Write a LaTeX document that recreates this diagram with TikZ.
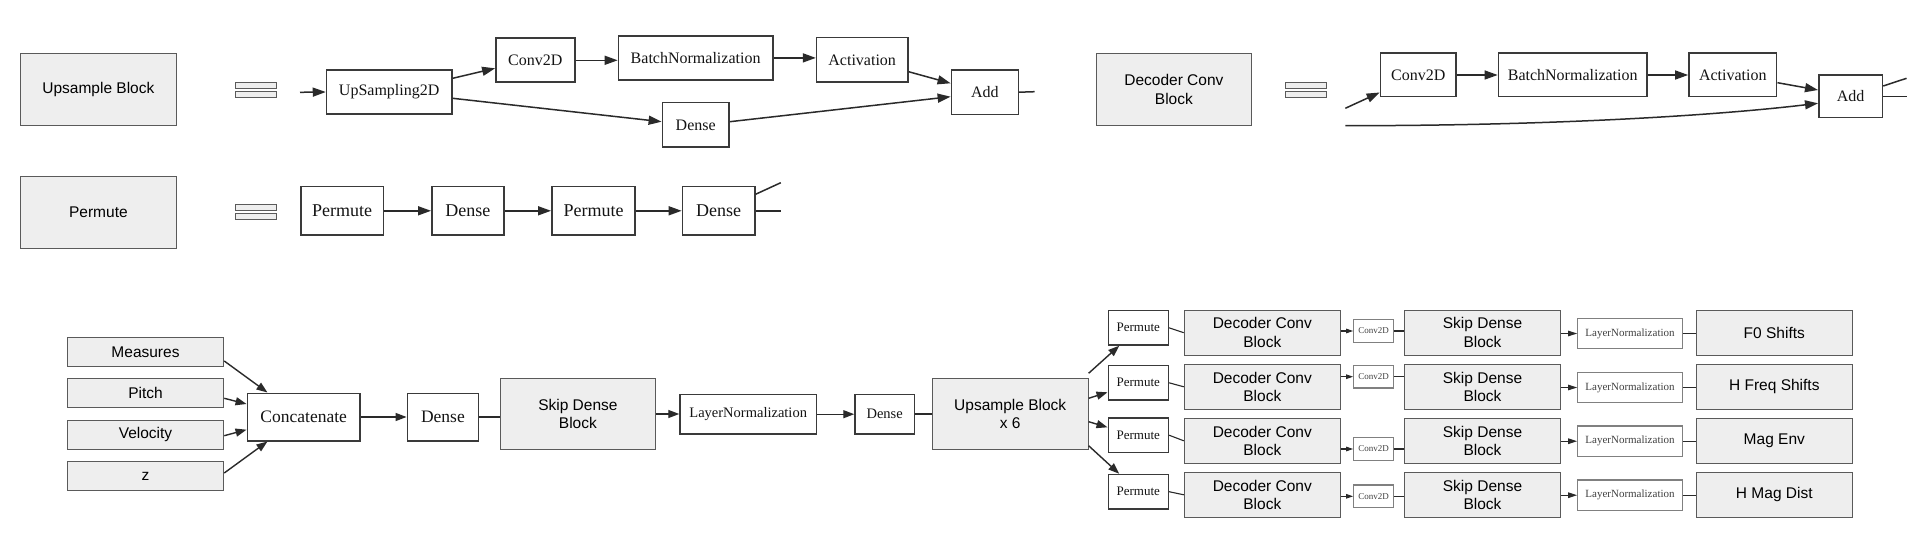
\documentclass[tikz,border=0pt]{standalone}
\usepackage{fontspec}
\setmainfont{Liberation Serif}
\setsansfont{Liberation Sans}
\usetikzlibrary{arrows.meta}
\definecolor{gfill}{HTML}{EEEEEE}
\definecolor{gline}{HTML}{5A5A5A}
\definecolor{wline}{HTML}{3A3A3A}
\definecolor{eline}{HTML}{2A2A2A}
\definecolor{sline}{HTML}{808080}
\begin{document}
\begin{tikzpicture}[x=1pt,y=-1pt,
  gbox/.style={draw=gline,fill=gfill,line width=1.1pt,inner sep=0pt,align=center,
    font=\sffamily\fontsize{15.5}{18.5}\selectfont},
  wbox/.style={draw=wline,fill=white,line width=1.6pt,inner sep=0pt,align=center,text=black!92},
  sbox/.style={draw=sline,fill=white,line width=1.1pt,inner sep=0pt,align=center,text=black!75},
  eqbar/.style={draw=gline,fill=gfill,line width=0.9pt,inner sep=0pt,
    minimum width=40.8pt,minimum height=5.6pt},
  arr/.style={draw=eline,line width=1.5pt,-{Triangle[length=13pt,width=9pt]}},
  marr/.style={draw=eline,line width=1.4pt,-{Triangle[length=11pt,width=8pt]}},
  sarr/.style={draw=eline,line width=1.1pt,-{Triangle[length=7pt,width=4.5pt]}},
  tarr/.style={draw=eline,line width=1.1pt,-{Triangle[length=9pt,width=5.5pt]}},
  conn/.style={draw=eline,line width=1.5pt},
  sconn/.style={draw=eline,line width=1.1pt},
  fa/.style={font=\rmfamily\fontsize{16}{18}\selectfont},
  fb/.style={font=\rmfamily\fontsize{18}{20}\selectfont},
  fc/.style={font=\rmfamily\fontsize{17.5}{20}\selectfont},
  fd/.style={font=\rmfamily\fontsize{14.5}{16}\selectfont},
  fe/.style={font=\rmfamily\fontsize{13}{15}\selectfont},
  ff/.style={font=\rmfamily\fontsize{9}{11}\selectfont},
  fg/.style={font=\rmfamily\fontsize{11}{13}\selectfont}
]
\useasboundingbox (0,0) rectangle (1920,540);
\fill[white] (0,0) rectangle (1920,540);

% ---------- Upsample block definition ----------
\node[gbox,minimum width=156pt,minimum height=72pt] (ub) at (98.4,89.3) {Upsample Block};
\node[eqbar] (eqa1) at (255.9,85.5) {};
\node[eqbar] (eqa2) at (255.9,94.5) {};
\coordinate (uin) at (300,92.3);
\node[wbox,fa,minimum width=125.3pt,minimum height=44pt] (up) at (389.2,92) {UpSampling2D};
\node[wbox,fa,minimum width=78.8pt,minimum height=44pt] (uc) at (535.3,60.3) {Conv2D};
\node[wbox,fa,minimum width=154.3pt,minimum height=44.3pt] (ubn) at (695.6,57.9) {BatchNormalization};
\node[wbox,fa,minimum width=91.1pt,minimum height=44.6pt] (uact) at (862.2,60) {Activation};
\node[wbox,fa,minimum width=67pt,minimum height=44.3pt] (uadd) at (984.9,92.2) {Add};
\node[wbox,fa,minimum width=66.6pt,minimum height=44.6pt] (udn) at (695.7,125) {Dense};
\coordinate (uout) at (1034.7,91.7);

\draw[arr] (uin) -- (up.west);
\draw[arr] ([yshift=13.7pt]up.east) -- ([yshift=-8pt]uc.west);
\draw[arr] (uc.east) -- (uc.east -| ubn.west);
\draw[arr] (ubn.east) -- (ubn.east -| uact.west);
\draw[arr] ([yshift=-11.7pt]uact.east) -- ([yshift=8.9pt]uadd.west);
\draw[arr] ([yshift=3.3pt]udn.east) -- ([yshift=-4.5pt]uadd.west);
\draw[arr] ([yshift=-6.3pt]up.east) -- ([yshift=3.3pt]udn.west);
\draw[conn] (uadd.east) -- (uout);

% ---------- Permute definition ----------
\node[gbox,minimum width=156pt,minimum height=71.6pt] (pg) at (98.4,212.5) {Permute};
\node[eqbar,minimum height=6pt] (eqb1) at (255.9,207.3) {};
\node[eqbar,minimum height=6pt] (eqb2) at (255.9,216.7) {};
\node[wbox,fb,minimum width=82.9pt,minimum height=48.3pt] (pp1) at (342.2,210.8) {Permute};
\node[wbox,fb,minimum width=71.9pt,minimum height=48.3pt] (pd1) at (467.8,210.8) {Dense};
\node[wbox,fb,minimum width=83.3pt,minimum height=48.3pt] (pp2) at (593.5,210.8) {Permute};
\node[wbox,fb,minimum width=72.3pt,minimum height=48.3pt] (pd2) at (718.6,210.8) {Dense};
\coordinate (po1) at (780.8,182.7);
\coordinate (po2) at (780.8,210.8);
\draw[arr] (pp1.east) -- (pd1.west);
\draw[arr] (pd1.east) -- (pp2.west);
\draw[arr] (pp2.east) -- (pd2.west);
\draw[conn] ([yshift=16.5pt]pd2.east) -- (po1);
\draw[conn] (pd2.east) -- (po2);

% ---------- Decoder conv block definition ----------
\node[gbox,minimum width=155.1pt,minimum height=72pt] (dcb) at (1173.9,89.3) {Decoder Conv\\Block};
\node[eqbar] (eqc1) at (1305.7,85.5) {};
\node[eqbar] (eqc2) at (1305.7,94.5) {};
\coordinate (din) at (1345.3,108.3);
\coordinate (dsk) at (1345.3,125.7);
\node[wbox,fa,minimum width=75.5pt,minimum height=43.4pt] (dc) at (1418.2,75) {Conv2D};
\node[wbox,fa,minimum width=148.5pt,minimum height=43.4pt] (dbn) at (1572.7,75) {BatchNormalization};
\node[wbox,fa,minimum width=87.7pt,minimum height=43.4pt] (dact) at (1732.8,75) {Activation};
\node[wbox,fa,minimum width=63.6pt,minimum height=42.3pt] (dadd) at (1850.6,96.2) {Add};
\coordinate (do1) at (1906.5,78.3);
\coordinate (do2) at (1906.5,96.7);
\draw[arr] (din) -- ([yshift=5pt]dc.south west);
\draw[arr] (dc.east) -- (dbn.west);
\draw[arr] (dbn.east) -- (dact.west);
\draw[arr] ([yshift=-7.7pt]dact.east) -- ([yshift=6.2pt]dadd.west);
\draw[arr] (dsk) .. controls (1560,125.7) and (1720,115) .. ([yshift=-7.1pt]dadd.west);
\draw[conn] ([yshift=10.2pt]dadd.east) -- (do1);
\draw[conn] ([yshift=-0.5pt]dadd.east) -- (do2);

% ---------- Main network ----------
\node[gbox,minimum width=156.4pt,minimum height=28.5pt] (ms) at (145.5,351.8) {Measures};
\node[gbox,minimum width=156.4pt,minimum height=28.5pt] (pi) at (145.5,393) {Pitch};
\node[gbox,minimum width=156.4pt,minimum height=28.5pt] (ve) at (145.5,434.8) {Velocity};
\node[gbox,minimum width=156.4pt,minimum height=28.5pt] (zz) at (145.5,476) {z};
\node[wbox,fc,minimum width=112.7pt,minimum height=47.4pt] (cat) at (303.7,417) {Concatenate};
\node[wbox,fc,minimum width=71.1pt,minimum height=47.4pt] (md1) at (442.9,417) {Dense};
\node[gbox,minimum width=155pt,minimum height=70.7pt] (msk) at (577.9,414) {Skip Dense\\Block};
\node[wbox,fd,minimum width=136.3pt,minimum height=39.7pt] (mln) at (748.2,414.2) {LayerNormalization};
\node[wbox,fd,minimum width=59.3pt,minimum height=39.7pt] (md2) at (884.7,414.2) {Dense};
\node[gbox,minimum width=155.7pt,minimum height=70.7pt] (mup) at (1010.2,414) {Upsample Block\\x 6};

\draw[marr] ([yshift=-9.2pt]ms.east) -- ([xshift=20.9pt]cat.north west);
\draw[marr] ([yshift=-5.3pt]pi.east) -- ([yshift=13pt]cat.west);
\draw[marr] ([yshift=-0.9pt]ve.east) -- ([yshift=-12.7pt]cat.west);
\draw[marr] ([yshift=3pt]zz.east) -- ([xshift=20.9pt]cat.south west);
\draw[marr] (cat.east) -- (md1.west);
\draw[conn] (md1.east) -- (md1.east -| msk.west);
\draw[marr] (msk.east) -- (msk.east -| mln.west);
\draw[marr] (mln.east) -- (md2.west);
\draw[conn] (md2.east) -- (md2.east -| mup.west);

% four output branches
\node[wbox,fe,minimum width=60pt,minimum height=34.3pt] (bp1) at (1138.3,327.8) {Permute};
\node[wbox,fe,minimum width=60pt,minimum height=34.3pt] (bp2) at (1138.3,382.8) {Permute};
\node[wbox,fe,minimum width=60pt,minimum height=34.3pt] (bp3) at (1138.3,435.2) {Permute};
\node[wbox,fe,minimum width=60pt,minimum height=34.3pt] (bp4) at (1138.3,491.7) {Permute};

\draw[marr] ([yshift=40.7pt]mup.east) -- ([xshift=11.7pt]bp1.south west);
\draw[marr] ([yshift=15.7pt]mup.east) -- ([yshift=-9.5pt]bp2.west);
\draw[marr] ([yshift=-7.7pt]mup.east) -- ([yshift=7.9pt]bp3.west);
\draw[marr] ([yshift=-31.7pt]mup.east) -- ([xshift=11.7pt]bp4.north west);

\foreach \i/\dy/\cy/\ly/\lab in {1/332.7/331/333.5/F0 Shifts,2/386.8/376.7/387.5/H Freq Shifts,3/440.8/449/441.2/Mag Env,4/494.8/496.3/495.2/H Mag Dist}{
  \node[gbox,minimum width=156pt,minimum height=45.2pt] (bd\i) at (1262.3,\dy) {Decoder Conv\\Block};
  \node[sbox,ff,minimum width=40pt,minimum height=22.6pt] (bc\i) at (1373.7,\cy) {Conv2D};
  \node[gbox,minimum width=156.4pt,minimum height=45.2pt] (bs\i) at (1482.5,\dy) {Skip Dense\\Block};
  \node[sbox,fg,minimum width=104.6pt,minimum height=30.4pt] (bl\i) at (1630,\ly) {LayerNormalization};
  \node[gbox,minimum width=156pt,minimum height=45.2pt] (bo\i) at (1774.3,\dy) {\lab};
  \draw[sconn] (bp\i.east) -- (bd\i.west);
  \draw[sarr] (bd\i.east |- bc\i.west) -- (bc\i.west);
  \draw[sconn] (bc\i.east) -- (bc\i.east -| bs\i.west);
  \draw[tarr] (bs\i.east |- bl\i.west) -- (bl\i.west);
  \draw[sconn] (bl\i.east) -- (bl\i.east -| bo\i.west);
}
\end{tikzpicture}
\end{document}
